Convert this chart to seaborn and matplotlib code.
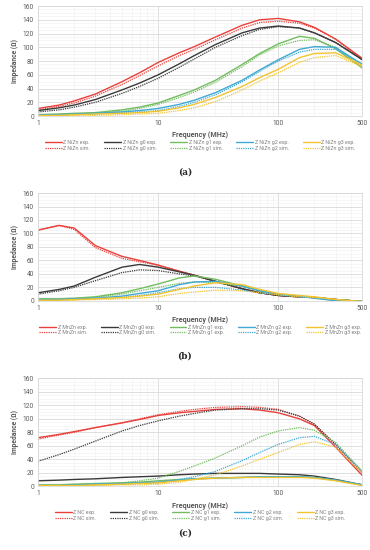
import numpy as np
import pandas as pd
import matplotlib
matplotlib.use('Agg')
import matplotlib.pyplot as plt
from matplotlib.ticker import FixedLocator, NullFormatter, MultipleLocator
import seaborn as sns

# frequency points (MHz) shared by all series
freq = [1, 1.5, 2, 3, 5, 7, 10, 15, 20, 30, 50, 70, 100, 150, 200, 300, 500]

# (a) NiZn
a_labels = ['Z NiZn exp.', 'Z NiZn sim.', 'Z NiZn g0 exp.', 'Z NiZn g0 sim.',
            'Z NiZn g1 exp.', 'Z NiZn g1 sim.', 'Z NiZn g2 exp.', 'Z NiZn g2 sim.',
            'Z NiZn g3 exp.', 'Z NiZn g3 sim.']
a_exp = [
    [11, 16, 22, 32, 50, 63, 78, 92, 101, 115, 132, 140, 142, 137, 129, 112, 84],
    [8, 12, 16, 24, 38, 48, 60, 76, 88, 104, 121, 128, 131, 128, 121, 107, 82],
    [2, 3, 4, 5, 9, 13, 19, 30, 38, 52, 75, 91, 105, 116, 113, 98, 70],
    [2, 2, 3, 4, 6, 8, 11, 17, 23, 34, 52, 67, 82, 97, 101, 100, 75],
    [1, 1, 2, 3, 4, 5, 7, 12, 17, 27, 43, 56, 68, 85, 91, 92, 74],
]
a_sim = [
    [9, 14, 19, 29, 46, 59, 73, 88, 97, 111, 128, 136, 138, 135, 128, 112, 82],
    [6, 9, 13, 20, 33, 43, 55, 71, 83, 100, 117, 126, 130, 128, 121, 107, 82],
    [1, 2, 3, 4, 7, 11, 17, 27, 35, 49, 72, 89, 102, 110, 111, 100, 72],
    [1, 1, 2, 3, 5, 6, 8, 14, 20, 31, 50, 65, 80, 93, 97, 97, 76],
    [0.5, 0.5, 1, 1, 2, 3, 4, 8, 12, 21, 38, 51, 63, 78, 85, 88, 72],
]

# (b) MnZn
b_labels = ['Z MnZn exp.', 'Z MnZn sim.', 'Z MnZn g0 exp.', 'Z MnZn g0 sim.',
            'Z MnZn g1 exp.', 'Z MnZn g1 exp.', 'Z MnZn g2 exp.', 'Z MnZn g2 exp.',
            'Z MnZn g3 exp.', 'Z MnZn g3 exp.']
b_exp = [
    [105, 112, 108, 82, 66, 60, 53, 44, 38, 29, 18, 12, 8, 6, 5, 2, -1],
    [12, 17, 22, 35, 50, 54, 50, 43, 38, 29, 18, 12, 8, 6, 5, 2, -1],
    [3, 3, 4, 6, 12, 18, 25, 34, 37, 32, 22, 15, 9, 7, 5, 2, -1],
    [2, 2, 3, 4, 7, 11, 15, 24, 28, 29, 22, 15, 10, 7, 4, 0, -1],
    [1, 1, 2, 3, 5, 7, 10, 17, 22, 27, 24, 17, 11, 8, 6, 2, -1],
]
b_sim = [
    [105, 112, 106, 79, 63, 58, 53, 44, 38, 29, 18, 12, 8, 6, 5, 2, -1],
    [10, 15, 20, 30, 42, 46, 45, 40, 37, 29, 18, 12, 8, 6, 5, 2, -1],
    [2, 2, 3, 5, 10, 15, 20, 26, 28, 27, 21, 15, 10, 7, 5, 2, -1],
    [1, 1, 2, 3, 5, 8, 12, 18, 20, 20, 16, 12, 9, 6, 4, 1, -1],
    [0.5, 0.5, 1, 2, 3, 4, 6, 11, 13, 16, 15, 12, 9, 6, 5, 2, -1],
]

# (c) NC
c_labels = ['Z NC exp.', 'Z NC sim.', 'Z NC g0 exp.', 'Z NC g0 sim.',
            'Z NC g1 exp.', 'Z NC g1 sim.', 'Z NC g2 exp.', 'Z NC g2 sim.',
            'Z NC g3 exp.', 'Z NC g3 sim.']
c_exp = [
    [72, 77, 81, 87, 94, 99, 105, 109, 111, 114, 115, 113, 109, 100, 90, 58, 16],
    [8, 9, 10, 11, 13, 14, 15, 17, 18, 19, 19, 19, 18, 17, 15, 10, 2],
    [2, 2, 3, 4, 5, 6, 8, 10, 11, 12, 13, 14, 14, 14, 13, 9, 2],
    [1, 1, 2, 3, 4, 5, 6, 9, 11, 12, 13, 14, 14, 14, 13, 9, 2],
    [1, 1, 1, 2, 3, 4, 5, 8, 10, 12, 13, 13, 13, 13, 12, 8, 1],
]
c_sim = [
    [70, 76, 80, 87, 94, 100, 106, 111, 114, 117, 118, 117, 114, 104, 92, 62, 20],
    [37, 47, 55, 67, 82, 90, 97, 104, 108, 113, 115, 115, 113, 104, 92, 62, 20],
    [1, 1, 2, 3, 5, 8, 12, 22, 30, 42, 60, 73, 82, 87, 83, 65, 22],
    [0.5, 0.5, 1, 2, 3, 4, 5, 10, 14, 22, 38, 50, 62, 72, 74, 62, 22],
    [0.3, 0.3, 0.5, 1, 2, 2, 3, 6, 10, 17, 30, 40, 50, 62, 66, 58, 20],
]

colors = ['#e8413c', '#3a3a3a', '#72bd5f', '#3fa9d4', '#f2c431']
panel_names = ['(a)', '(b)', '(c)']

sns.set_theme(style='white')
plt.rcParams['font.family'] = ['Roboto', 'DejaVu Sans']

fig = plt.figure(figsize=(3.7, 5.5), dpi=100)
ax_pos = [
    [0.103, 0.789, 0.876, 0.200],
    [0.103, 0.453, 0.876, 0.196],
    [0.103, 0.116, 0.876, 0.196],
]
panel_label_y = [172, 356, 533]

panels = [(a_labels, a_exp, a_sim), (b_labels, b_exp, b_sim), (c_labels, c_exp, c_sim)]

for i, (labels, exp_vals, sim_vals) in enumerate(panels):
    ax = fig.add_axes(ax_pos[i])
    for k in range(5):
        sns.lineplot(x=freq, y=exp_vals[k], ax=ax, color=colors[k], lw=1.0,
                     linestyle='-', label=labels[2 * k], legend=False)
        sns.lineplot(x=freq, y=sim_vals[k], ax=ax, color=colors[k], lw=0.9,
                     linestyle=(0, (1, 0.8)), label=labels[2 * k + 1], legend=False)
    ax.set_xscale('log')
    ax.set_xlim(1, 500)
    ax.set_ylim(0, 160)
    ax.set_yticks(range(0, 161, 20))
    ax.yaxis.set_minor_locator(MultipleLocator(5))
    ax.xaxis.set_major_locator(FixedLocator([1, 10, 100, 500]))
    ax.set_xticklabels(['1', '10', '100', '500'])
    minors = [m * 10 ** d for d in range(0, 3) for m in range(2, 10) if m * 10 ** d < 500]
    ax.xaxis.set_minor_locator(FixedLocator(minors))
    ax.xaxis.set_minor_formatter(NullFormatter())
    ax.grid(which='major', axis='both', color='#d9d9d9', lw=0.6)
    ax.grid(which='minor', axis='both', color='#f0f0f0', lw=0.4)
    ax.set_axisbelow(True)
    for s in ax.spines.values():
        s.set_color('#d9d9d9')
        s.set_linewidth(0.6)
    ax.tick_params(axis='both', which='both', labelsize=4.8, colors='#595959', length=0, pad=3)
    ax.set_xlabel('Frequency (MHz)', fontsize=5.2, color='#595959', fontweight='bold', labelpad=3)
    ax.set_ylabel('Impedance (Ω)', fontsize=4.8, color='#595959', fontweight='bold', labelpad=3)

    lines = [l for l in ax.get_lines() if len(l.get_xdata()) > 0]
    leg = ax.legend(lines, [l.get_label() for l in lines], ncol=5, loc='upper center',
                    bbox_to_anchor=(0.5, -0.2), frameon=False, fontsize=3.8,
                    handlelength=3.2, handletextpad=0.3, columnspacing=2.6,
                    labelspacing=0.15, borderaxespad=0)
    for t in leg.get_texts():
        t.set_color('#808080')

    fig.text(0.5, 1 - panel_label_y[i] / 550, panel_names[i], ha='center', va='center',
             fontsize=6.5, fontweight='bold', family='DejaVu Serif')

fig.savefig('out.png', dpi=100, facecolor='white')
